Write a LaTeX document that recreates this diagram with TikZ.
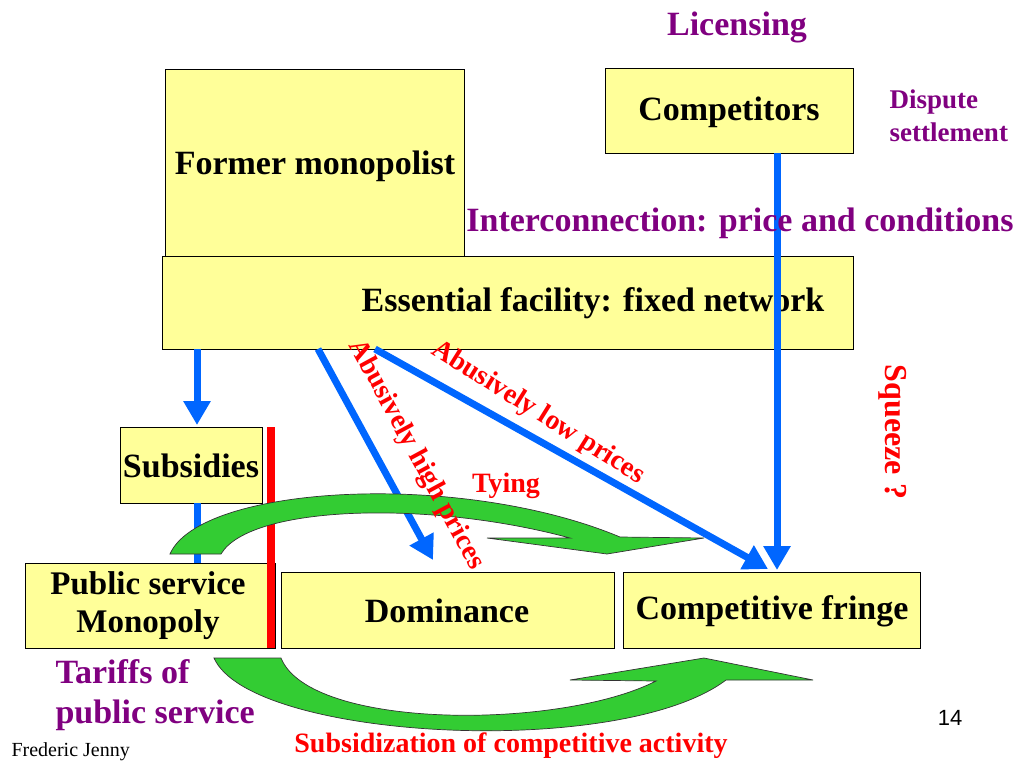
\documentclass[tikz,border=0pt]{standalone}
\usepackage{fontspec}
\setmainfont{Liberation Serif}
\newfontfamily\arialf{Liberation Sans}
\usetikzlibrary{arrows.meta}
\definecolor{boxy}{HTML}{FFFF99}
\definecolor{blu}{HTML}{0066FF}
\definecolor{pur}{HTML}{800080}
\definecolor{grn}{HTML}{33CC33}
\tikzset{
 box/.style={draw=black,fill=boxy,line width=0.8pt},
 lbl/.style={font=\fontsize{34}{40}\selectfont\bfseries,align=center},
 barr/.style={draw=blu,line width=7pt,-{Triangle[length=24pt,width=26pt]}},
 rtxt/.style={text=red,font=\fontsize{28}{32}\selectfont\bfseries},
 purl/.style={text=pur,font=\fontsize{34}{40}\selectfont\bfseries},
 garr/.style={fill=grn,draw=black!80,line width=0.7pt}
}
\begin{document}
\begin{tikzpicture}[x=1pt,y=-1pt]
\useasboundingbox (0,0) rectangle (1024,768);
% boxes
\draw[box] (165,69) rectangle (464,258);
\node[lbl] (fm) at (315,166) {Former monopolist};
\draw[box] (605,68) rectangle (853,153);
\node[lbl] (comp) at (729,112) {Competitors};
\draw[box] (162,256) rectangle (853,349);
\node[lbl] (ef) at (593,303) {Essential facility: fixed network};
\draw[box] (120,427) rectangle (262,503);
\node[lbl] (sub) at (191,466) {Subsidies};
\draw[box] (25,563) rectangle (275,648);
\node[lbl,font=\fontsize{33}{38}\selectfont\bfseries] (psm) at (148,606) {Public service\\Monopoly};
\draw[box] (281,572) rectangle (614,648);
\node[lbl] (dom) at (447,611) {Dominance};
\draw[box] (623,572) rectangle (920,648);
\node[lbl] (cf) at (772,611) {Competitive fringe};
% blue arrows
\coordinate (a1) at (197,349); \coordinate (a1e) at (197,425);
\draw[barr] (a1) -- (a1e);
\coordinate (a2) at (197,503); \coordinate (a2e) at (197,563);
\draw[blu,line width=7pt] (a2) -- (a2e);
\coordinate (b1) at (318,349); \coordinate (b1e) at (433,560);
\draw[barr] (b1) -- (b1e);
\coordinate (c1) at (375,349); \coordinate (c1e) at (768,569);
\draw[barr] (c1) -- (c1e);
\coordinate (d1) at (777,153); \coordinate (d1e) at (777,570);
\draw[barr] (d1) -- (d1e);
% red bar
\fill[red] (267,427) rectangle (275,648);
% green arrows
\draw[garr] (170,554) .. controls (200,485) and (460,470) .. (620,537) -- (704,538) -- (607,554) -- (487,538) -- (570,538) .. controls (430,500) and (250,505) .. (221,554) -- cycle;
\draw[garr] (214,658) .. controls (250,740) and (620,760) .. (726,680) -- (813,680) -- (704,658) -- (570,680) -- (656,681) .. controls (560,730) and (310,730) .. (281,658) -- cycle;
% texts
\node[purl] (lic) at (737,27) {Licensing};
\node[text=pur,font=\fontsize{27}{33}\selectfont\bfseries,align=left,anchor=north west] (ds) at (886,86) {Dispute\\settlement};
\node[purl] (ic) at (740,223) {Interconnection: price and conditions};
\node[rtxt,font=\fontsize{32}{36}\selectfont\bfseries,rotate=-90] (sq) at (893,432) {Squeeze ?};
\node[rtxt,rotate=-61.5] (ahp) at (416,455) {Abusively high prices};
\node[rtxt,rotate=-32] (alp) at (538,413) {Abusively low prices};
\node[rtxt] (ty) at (506,486) {Tying};
\node[purl,align=left,anchor=north west] (tar) at (52,656) {Tariffs of\\public service};
\node[rtxt] (sca) at (511,746) {Subsidization of competitive activity};
\node[font=\fontsize{20}{22}\selectfont,anchor=west] (fj) at (8,752) {Frederic Jenny};
\node[font=\fontsize{22}{24}\selectfont\arialf] (pg) at (950,718) {14};
\end{tikzpicture}
\end{document}
